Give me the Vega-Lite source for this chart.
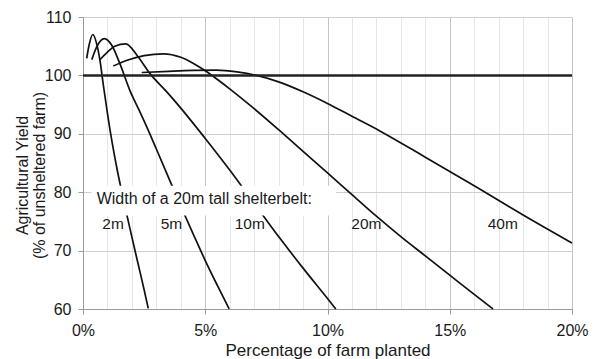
{
  "$schema": "https://vega.github.io/schema/vega-lite/v6.json",
  "width": 489,
  "height": 292,
  "autosize": {"type": "none"},
  "padding": {"left": 83, "top": 17, "right": 22, "bottom": 50},
  "background": "white",
  "config": {
    "view": {"stroke": null},
    "font": "Liberation Sans",
    "axis": {"labelFont": "Liberation Sans", "titleFont": "Liberation Sans", "labelColor": "#1a1a1a", "titleColor": "#1a1a1a", "titleFontWeight": "normal", "domainColor": "#9a9a9a", "tickColor": "#9a9a9a"}
  },
  "datasets": {
    "curves": [
      {"belt": "2m", "x": 0.15, "y": 102.9},
      {"belt": "2m", "x": 0.25, "y": 105.2},
      {"belt": "2m", "x": 0.40, "y": 107.0},
      {"belt": "2m", "x": 0.56, "y": 105.4},
      {"belt": "2m", "x": 0.70, "y": 102.4},
      {"belt": "2m", "x": 0.83, "y": 98.4},
      {"belt": "2m", "x": 1.0, "y": 93.5},
      {"belt": "2m", "x": 1.2, "y": 88.3},
      {"belt": "2m", "x": 1.4, "y": 83.8},
      {"belt": "2m", "x": 1.6, "y": 79.8},
      {"belt": "2m", "x": 1.8, "y": 76.0},
      {"belt": "2m", "x": 2.0, "y": 72.3},
      {"belt": "2m", "x": 2.25, "y": 67.8},
      {"belt": "2m", "x": 2.5, "y": 63.3},
      {"belt": "2m", "x": 2.67, "y": 60.1},
      {"belt": "5m", "x": 0.36, "y": 102.7},
      {"belt": "5m", "x": 0.55, "y": 104.8},
      {"belt": "5m", "x": 0.88, "y": 106.3},
      {"belt": "5m", "x": 1.17, "y": 105.2},
      {"belt": "5m", "x": 1.5, "y": 102.1},
      {"belt": "5m", "x": 1.92, "y": 97.4},
      {"belt": "5m", "x": 2.3, "y": 94.0},
      {"belt": "5m", "x": 2.67, "y": 90.6},
      {"belt": "5m", "x": 3.0, "y": 87.4},
      {"belt": "5m", "x": 3.5, "y": 82.5},
      {"belt": "5m", "x": 4.0, "y": 77.6},
      {"belt": "5m", "x": 4.5, "y": 72.9},
      {"belt": "5m", "x": 5.0, "y": 68.3},
      {"belt": "5m", "x": 5.5, "y": 64.0},
      {"belt": "5m", "x": 5.98, "y": 60.0},
      {"belt": "10m", "x": 0.67, "y": 102.6},
      {"belt": "10m", "x": 1.0, "y": 104.0},
      {"belt": "10m", "x": 1.3, "y": 105.0},
      {"belt": "10m", "x": 1.75, "y": 105.4},
      {"belt": "10m", "x": 2.25, "y": 103.2},
      {"belt": "10m", "x": 2.74, "y": 100.3},
      {"belt": "10m", "x": 3.4, "y": 97.3},
      {"belt": "10m", "x": 4.0, "y": 94.4},
      {"belt": "10m", "x": 5.0, "y": 89.2},
      {"belt": "10m", "x": 6.0, "y": 83.8},
      {"belt": "10m", "x": 7.0, "y": 78.1},
      {"belt": "10m", "x": 8.0, "y": 72.4},
      {"belt": "10m", "x": 9.0, "y": 67.0},
      {"belt": "10m", "x": 10.0, "y": 61.8},
      {"belt": "10m", "x": 10.34, "y": 60.0},
      {"belt": "20m", "x": 1.24, "y": 101.6},
      {"belt": "20m", "x": 1.8, "y": 102.6},
      {"belt": "20m", "x": 2.5, "y": 103.4},
      {"belt": "20m", "x": 3.3, "y": 103.7},
      {"belt": "20m", "x": 4.0, "y": 103.1},
      {"belt": "20m", "x": 4.5, "y": 102.1},
      {"belt": "20m", "x": 5.0, "y": 100.8},
      {"belt": "20m", "x": 5.5, "y": 99.3},
      {"belt": "20m", "x": 6.0, "y": 97.7},
      {"belt": "20m", "x": 7.0, "y": 94.3},
      {"belt": "20m", "x": 8.0, "y": 90.7},
      {"belt": "20m", "x": 9.0, "y": 87.0},
      {"belt": "20m", "x": 10.0, "y": 83.3},
      {"belt": "20m", "x": 11.0, "y": 79.6},
      {"belt": "20m", "x": 12.0, "y": 75.9},
      {"belt": "20m", "x": 13.0, "y": 72.4},
      {"belt": "20m", "x": 14.0, "y": 69.1},
      {"belt": "20m", "x": 15.0, "y": 65.8},
      {"belt": "20m", "x": 16.0, "y": 62.5},
      {"belt": "20m", "x": 16.77, "y": 60.0},
      {"belt": "40m", "x": 2.40, "y": 100.5},
      {"belt": "40m", "x": 3.5, "y": 100.7},
      {"belt": "40m", "x": 4.5, "y": 100.85},
      {"belt": "40m", "x": 5.46, "y": 100.9},
      {"belt": "40m", "x": 6.3, "y": 100.6},
      {"belt": "40m", "x": 7.1, "y": 100.0},
      {"belt": "40m", "x": 8.0, "y": 98.9},
      {"belt": "40m", "x": 9.0, "y": 97.2},
      {"belt": "40m", "x": 10.0, "y": 95.2},
      {"belt": "40m", "x": 11.0, "y": 93.0},
      {"belt": "40m", "x": 12.14, "y": 90.5},
      {"belt": "40m", "x": 14.0, "y": 86.0},
      {"belt": "40m", "x": 16.0, "y": 81.1},
      {"belt": "40m", "x": 18.0, "y": 76.1},
      {"belt": "40m", "x": 20.0, "y": 71.3}
    ],
    "labels": [
      {"text": "2m", "x": 1.23, "y": 74.6},
      {"text": "5m", "x": 3.62, "y": 74.6},
      {"text": "10m", "x": 6.82, "y": 74.6},
      {"text": "20m", "x": 11.59, "y": 74.6},
      {"text": "40m", "x": 17.17, "y": 74.6}
    ]
  },
  "layer": [
    {
      "data": {"name": "curves"},
      "mark": {"type": "line", "interpolate": "monotone", "color": "#111111", "strokeWidth": 1.7},
      "encoding": {
        "x": {
          "field": "x", "type": "quantitative",
          "scale": {"domain": [0, 20], "nice": false, "zero": false},
          "axis": {
            "values": [0,1,2,3,4,5,6,7,8,9,10,11,12,13,14,15,16,17,18,19,20],
            "tickCount": 40,
            "labelExpr": "datum.value % 5 === 0 ? datum.value + '%' : ''",
            "labelFlush": false,
            "labelOverlap": false,
            "labelFontSize": 16,
            "labelPadding": 8,
            "tickSize": 5,
            "tickOpacity": {"condition": {"test": "datum.value % 5 === 0", "value": 1}, "value": 0},
            "gridColor": {"condition": {"test": "datum.value % 5 === 0", "value": "#c4c4c4"}, "value": "#e6e6e6"},
            "title": "Percentage of farm planted",
            "titleFontSize": 17,
            "titleBaseline": "alphabetic",
            "titleY": 46
          }
        },
        "y": {
          "field": "y", "type": "quantitative",
          "scale": {"domain": [60, 110], "nice": false, "zero": false},
          "axis": {
            "values": [60, 70, 80, 90, 100, 110],
            "labelFontSize": 16,
            "labelPadding": 7,
            "tickSize": 5,
            "gridColor": "#cfcfcf",
            "title": ["Agricultural Yield", "(% of unsheltered farm)"],
            "titleFontSize": 16,
            "titleLineHeight": 17,
            "titleY": 158,
            "titleX": -53
          }
        },
        "detail": {"field": "belt"}
      }
    },
    {
      "data": {"values": [{"y": 100}]},
      "mark": {"type": "rule", "color": "#222222", "strokeWidth": 2.5},
      "encoding": {"y": {"field": "y", "type": "quantitative"}}
    },
    {
      "data": {"values": [{"x": 0.35, "x2": 10.35, "y": 81.1, "y2": 76.0}]},
      "mark": {"type": "rect", "color": "white"},
      "encoding": {
        "x": {"field": "x", "type": "quantitative"},
        "x2": {"field": "x2"},
        "y": {"field": "y", "type": "quantitative"},
        "y2": {"field": "y2"}
      }
    },
    {
      "data": {"values": [{"text": "Width of a 20m tall shelterbelt:", "x": 0.56, "y": 78.85}]},
      "mark": {"type": "text", "align": "left", "baseline": "middle", "fontSize": 16, "color": "#1a1a1a"},
      "encoding": {
        "x": {"field": "x", "type": "quantitative"},
        "y": {"field": "y", "type": "quantitative"},
        "text": {"field": "text"}
      }
    },
    {
      "data": {"name": "labels"},
      "mark": {"type": "text", "align": "center", "baseline": "middle", "fontSize": 15.5, "color": "#1a1a1a"},
      "encoding": {
        "x": {"field": "x", "type": "quantitative"},
        "y": {"field": "y", "type": "quantitative"},
        "text": {"field": "text"}
      }
    }
  ]
}
